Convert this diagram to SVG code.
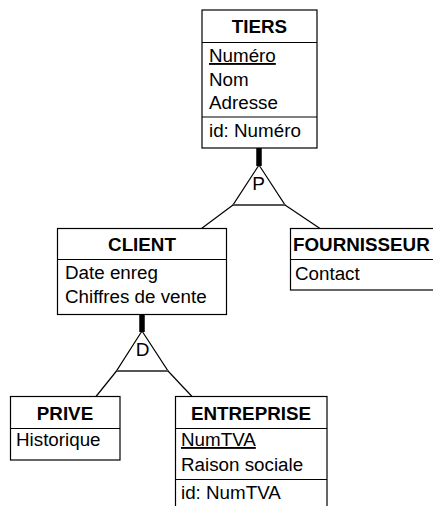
<svg xmlns="http://www.w3.org/2000/svg" width="433" height="506" viewBox="0 0 433 506">
  <style>
    .box { fill: #fff; stroke: #000; stroke-width: 1.2; }
    .sep { stroke: #000; stroke-width: 1.2; }
    .t { font-family: "Liberation Sans", Arial, sans-serif; font-size: 18.8px; fill: #000; }
    .h { font-weight: bold; text-anchor: middle; }
    .link { stroke: #000; stroke-width: 1.2; fill: none; }
    .stem { stroke: #000; stroke-width: 5.5; }
    .tri { fill: #fff; stroke: #000; stroke-width: 1.2; }
    .base { stroke: #555; stroke-width: 2.2; }
    .sym { font-family: "Liberation Sans", Arial, sans-serif; font-size: 19px; text-anchor: middle; fill: #000; }
  </style>

  <g id="connectors">
    <!-- TIERS -> P -->
    <line class="stem" x1="259" y1="147" x2="259" y2="166"/>
    <path class="tri" d="M259,165 L233,205 L285,205 Z"/>
    <line class="base" x1="233" y1="205" x2="285" y2="205"/>
    <text class="sym" x="258.5" y="190">P</text>
    <line class="link" x1="233" y1="205" x2="201.5" y2="228.5"/>
    <line class="link" x1="285" y1="205" x2="320" y2="228.5"/>
    <!-- CLIENT -> D -->
    <line class="stem" x1="142" y1="314" x2="142" y2="332"/>
    <path class="tri" d="M142,331 L116.5,371 L168,371 Z"/>
    <line class="base" x1="116.5" y1="371" x2="168" y2="371"/>
    <text class="sym" x="142.5" y="356">D</text>
    <line class="link" x1="116.5" y1="371" x2="96" y2="396.5"/>
    <line class="link" x1="168" y1="371" x2="192" y2="396.5"/>
  </g>

  <g id="tiers">
    <rect class="box" x="202" y="10" width="115" height="138"/>
    <line class="sep" x1="202" y1="42.5" x2="317" y2="42.5"/>
    <line class="sep" x1="202" y1="117" x2="317" y2="117"/>
    <text class="t h" x="259.5" y="33">TIERS</text>
    <text class="t" x="209" y="62" text-decoration="underline">Numéro</text>
    <text class="t" x="209" y="85.5">Nom</text>
    <text class="t" x="209" y="109">Adresse</text>
    <text class="t" x="209" y="136.5">id: Numéro</text>
  </g>

  <g id="client">
    <rect class="box" x="57.5" y="228.5" width="169" height="86"/>
    <line class="sep" x1="57.5" y1="259.5" x2="226.5" y2="259.5"/>
    <text class="t h" x="142" y="250.5">CLIENT</text>
    <text class="t" x="65" y="279">Date enreg</text>
    <text class="t" x="65" y="303">Chiffres de vente</text>
  </g>

  <g id="fournisseur">
    <rect class="box" x="290.5" y="228.5" width="160" height="61.5"/>
    <line class="sep" x1="290.5" y1="259.5" x2="450" y2="259.5"/>
    <text class="t" x="293" y="250.5" font-weight="bold">FOURNISSEUR</text>
    <text class="t" x="295" y="280">Contact</text>
  </g>

  <g id="prive">
    <rect class="box" x="10.5" y="396.5" width="109.5" height="63.5"/>
    <line class="sep" x1="10.5" y1="428.5" x2="120" y2="428.5"/>
    <text class="t h" x="65" y="420">PRIVE</text>
    <text class="t" x="16" y="446">Historique</text>
  </g>

  <g id="entreprise">
    <rect class="box" x="175.5" y="396.5" width="151.5" height="120"/>
    <line class="sep" x1="175.5" y1="428.5" x2="327" y2="428.5"/>
    <line class="sep" x1="175.5" y1="479.5" x2="327" y2="479.5"/>
    <text class="t h" x="251" y="420">ENTREPRISE</text>
    <text class="t" x="181" y="446" text-decoration="underline">NumTVA</text>
    <text class="t" x="181" y="471">Raison sociale</text>
    <text class="t" x="181" y="499">id: NumTVA</text>
  </g>
</svg>
